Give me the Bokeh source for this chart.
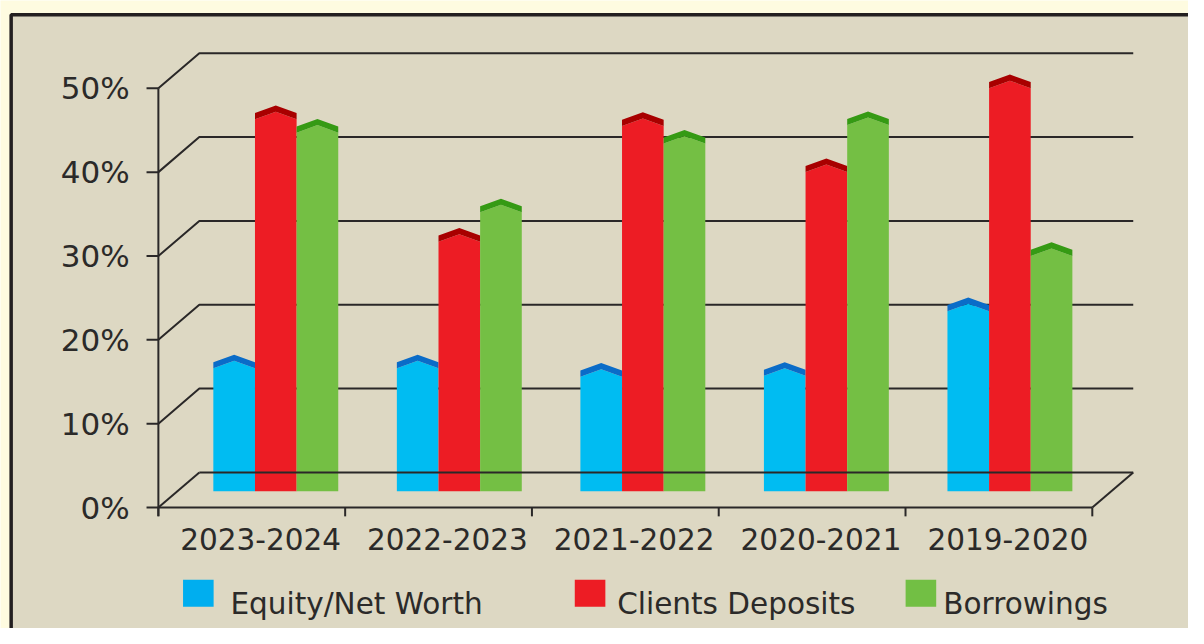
from bokeh.plotting import figure
from bokeh.models import Range1d
from bokeh.core.properties import value
from bokeh.embed import file_html
from bokeh.resources import INLINE

# ---------------- data ----------------
categories = ["2023-2024", "2022-2023", "2021-2022", "2020-2021", "2019-2020"]
series_names = ["Equity/Net Worth", "Clients Deposits", "Borrowings"]
equity = [15.4, 15.4, 14.4, 14.5, 22.2]
deposits = [45.1, 30.5, 44.3, 38.8, 48.8]
borrowings = [43.5, 34.0, 42.2, 44.4, 28.8]
y_ticks = [0, 10, 20, 30, 40, 50]
y_tick_labels = ["0%", "10%", "20%", "30%", "40%", "50%"]

# ---------------- style / layout ----------------
BG_OUTER = "#FEFBE0"
BG_INNER = "#DDD8C3"
BORDER = "#231F20"
LINE = "#2A2828"
TEXT = "#2B2A29"
FONT = value("DejaVu Sans")
face_colors = ["#00BCF2", "#ED1C24", "#74BF44"]
top_colors = ["#0A6CC8", "#A80000", "#359A14"]
legend_colors = ["#00AEEF", "#ED1C24", "#72BF44"]

W, H = 1188, 628
REF_W, REF_H = 1204, 644
X0, Y0 = 160.0, 520.0          # reference px of front axis origin
PX_U, PX_V = 189.3, 8.6        # px per category / per percent


def U(px):
    return (px - X0) / PX_U


def V(py):
    return (Y0 - py) / PX_V


DU, DV = 41.5 / PX_U, 36.0 / PX_V       # back wall depth offset
BAR_DV = 16.7 / PX_V                     # bar plane depth offset (vertical)
BAR_U0 = U(215.7)                        # left of first group
BAR_STEP = 186.0 / PX_U                  # group step at bar depth
BAR_W = 42.2 / PX_U
BAND = 6.3 / PX_V                        # dark top band thickness
RISE = 7.7 / PX_V                        # chevron peak rise
N = len(categories)
YMAX = y_ticks[-1]

p = figure(width=W, height=H, output_backend="svg", toolbar_location=None,
           x_range=Range1d(U(0), U(REF_W)), y_range=Range1d(V(REF_H), V(0)),
           x_axis_location=None, y_axis_location=None, min_border=0,
           background_fill_color=BG_OUTER, border_fill_color=BG_OUTER,
           outline_line_color=None)
p.grid.visible = False

# panel with dark border
p.quad(left=[U(10.8)], right=[U(1500)], top=[V(14.5)], bottom=[V(900)],
       fill_color=BG_INNER, line_color=BORDER, line_width=3.5)

# back wall gridlines (behind bars)
gx, gy = [], []
for t in y_ticks[1:]:
    gx.append([0, DU, N + DU])
    gy.append([t, t + DV, t + DV])
p.multi_line(gx, gy, line_color=LINE, line_width=2)

# bars
series = [equity, deposits, borrowings]
for s, vals in enumerate(series):
    fx, fy, tx, ty = [], [], [], []
    for i, val in enumerate(vals):
        xl = BAR_U0 + BAR_STEP * i + s * BAR_W
        xr = xl + BAR_W
        xc = (xl + xr) / 2
        vb = BAR_DV
        vt = val + BAR_DV
        fx.append([xl, xr, xr, xc, xl])
        fy.append([vb, vb, vt - BAND, vt - BAND + RISE, vt - BAND])
        tx.append([xl, xl, xc, xr, xr, xc])
        ty.append([vt - BAND, vt, vt + RISE, vt, vt - BAND, vt - BAND + RISE])
    p.patches(fx, fy, fill_color=face_colors[s], line_color=None)
    p.patches(tx, ty, fill_color=top_colors[s], line_color=None)

# floor outline (drawn over bars)
p.multi_line([[0, N], [DU, N + DU], [0, DU], [N, N + DU]],
             [[0, 0], [DV, DV], [0, DV], [0, DV]],
             line_color=LINE, line_width=2)

# y axis
tick_bottom = V(529)
p.segment(x0=[0], y0=[YMAX], x1=[0], y1=[tick_bottom], line_color=LINE, line_width=2)
p.segment(x0=[U(148)] * len(y_ticks), y0=y_ticks, x1=[0] * len(y_ticks), y1=y_ticks,
          line_color=LINE, line_width=2)
p.text(x=[U(131)] * len(y_ticks), y=y_ticks, text=y_tick_labels,
       text_font=FONT, text_font_size=value("31px"), text_color=TEXT,
       text_align="right", text_baseline="middle")

# x axis ticks and labels
bounds = list(range(N + 1))
p.segment(x0=bounds, y0=[0] * len(bounds), x1=bounds, y1=[tick_bottom] * len(bounds),
          line_color=LINE, line_width=2)
p.text(x=[i + 0.5 + 9 / PX_U for i in range(N)], y=[V(552.5)] * N, text=categories,
       text_font=FONT, text_font_size=value("29.5px"), text_color=TEXT,
       text_align="center", text_baseline="alphabetic")

# legend
LEG_X = [185.0, 582.0, 917.3]
LEG_TX = [233.0, 625.0, 955.5]
p.quad(left=[U(x) for x in LEG_X], right=[U(x + 31) for x in LEG_X],
       top=[V(594)] * 3, bottom=[V(621.7)] * 3,
       fill_color=legend_colors, line_color=None)
p.text(x=[U(x) for x in LEG_TX], y=[V(619.3)] * 3, text=series_names,
       text_font=FONT, text_font_size=value("29.5px"), text_color=TEXT,
       text_align="left", text_baseline="alphabetic")

open("out.html", "w").write(file_html(p, INLINE))
